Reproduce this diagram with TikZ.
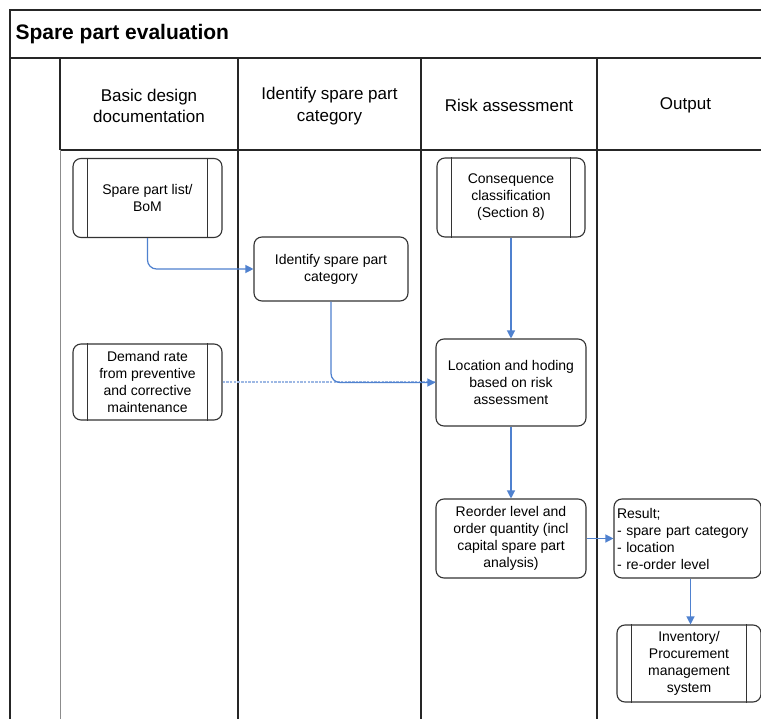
\documentclass[tikz,border=0pt]{standalone}
\usepackage{fontspec}
\setmainfont{Liberation Sans}
\usetikzlibrary{arrows.meta}
\definecolor{arrowblue}{HTML}{4F81CF}
\definecolor{dashblue}{HTML}{9DB8E4}
\definecolor{boxline}{HTML}{333333}
\tikzset{
  frameline/.style={draw=black!85, line width=1.3pt},
  laneline/.style={draw=black!45, line width=1pt},
  procbox/.style={draw=boxline, line width=1.1pt, rounded corners=8pt, inner sep=2pt,
    align=center, font=\fontsize{14}{17}\selectfont},
  hdr/.style={align=center, font=\fontsize{17}{21.5}\selectfont},
  conn/.style={draw=arrowblue, line width=1.2pt, rounded corners=9pt,
    -{Triangle[length=8pt,width=8pt]}},
  dashconn/.style={draw=dashblue, line width=1.2pt, dash pattern=on 2.5pt off 1.2pt},
  subline/.style={draw=boxline, line width=1.1pt}
}
\begin{document}
\begin{tikzpicture}[x=1pt,y=-1pt]
\useasboundingbox (0,0) rectangle (761,719);
\fill[white] (0,0) rectangle (761,719);
% frame
\draw[frameline] (10,10) rectangle (774,740);
\draw[frameline] (10,58) -- (774,58);
\draw[frameline] (60,150) -- (774,150);
\draw[frameline] (60,58) -- (60,150);
\draw[laneline] (60,150) -- (60,740);
\draw[frameline] (238,58) -- (238,740);
\draw[frameline] (421,58) -- (421,740);
\draw[frameline] (597,58) -- (597,740);
% title
\node[anchor=west, font=\fontsize{21}{25}\selectfont\bfseries] (title) at (12,34) {Spare part evaluation};
% headers
\node[hdr] (h1) at (149,106) {Basic design\\documentation};
\node[hdr] (h2) at (329.5,106) {Identify spare part\\category};
\node[hdr] (h3) at (509,105) {Risk assessment};
\node[hdr] (h4) at (685.5,105) {Output};
% boxes
\node[procbox, minimum width=149pt, minimum height=79pt] (bom) at (147.5,198) {Spare part list/\\BoM};
\node[procbox, minimum width=154pt, minimum height=64pt] (ident) at (331,269) {Identify spare part\\category};
\node[procbox, minimum width=149pt, minimum height=76pt] (dem) at (147.5,382) {Demand rate\\from preventive\\and corrective\\maintenance};
\node[procbox, minimum width=148pt, minimum height=79pt] (cons) at (511,197.5) {Consequence\\classification\\(Section 8)};
\node[procbox, minimum width=150pt, minimum height=87pt] (loc) at (511,382.5) {Location and hoding\\based on risk\\assessment};
\node[procbox, minimum width=150pt, minimum height=79pt] (reo) at (511,538.5) {Reorder level and\\order quantity (incl\\capital spare part\\analysis)};
\node[procbox, minimum width=147pt, minimum height=79pt, text width=141pt, align=left] (res) at (687.5,538.5) {Result;\\- spare part category\\- location\\- re-order level};
\node[procbox, minimum width=144pt, minimum height=77pt] (inv) at (689,663.5) {Inventory/\\Procurement\\management\\system};
% subprocess side lines
\foreach \n in {bom,dem,cons,inv}{
  \draw[subline] ([xshift=15pt]\n.north west) -- ([xshift=15pt]\n.south west);
  \draw[subline] ([xshift=-15pt]\n.north east) -- ([xshift=-15pt]\n.south east);
}
% connectors
\draw[dashconn] (dem.east) -- (loc.west |- dem.east);
\draw[conn] (bom.south) |- (ident.west);
\draw[conn] (ident.south) |- (loc.west);
\draw[conn] (cons.south) -- (cons.south |- loc.north);
\draw[conn] (loc.south) -- (reo.north);
\draw[conn] (reo.east) -- (res.west);
\draw[conn] ([xshift=3pt]res.south) -- ([xshift=3pt]res.south |- inv.north);
\end{tikzpicture}
\end{document}
